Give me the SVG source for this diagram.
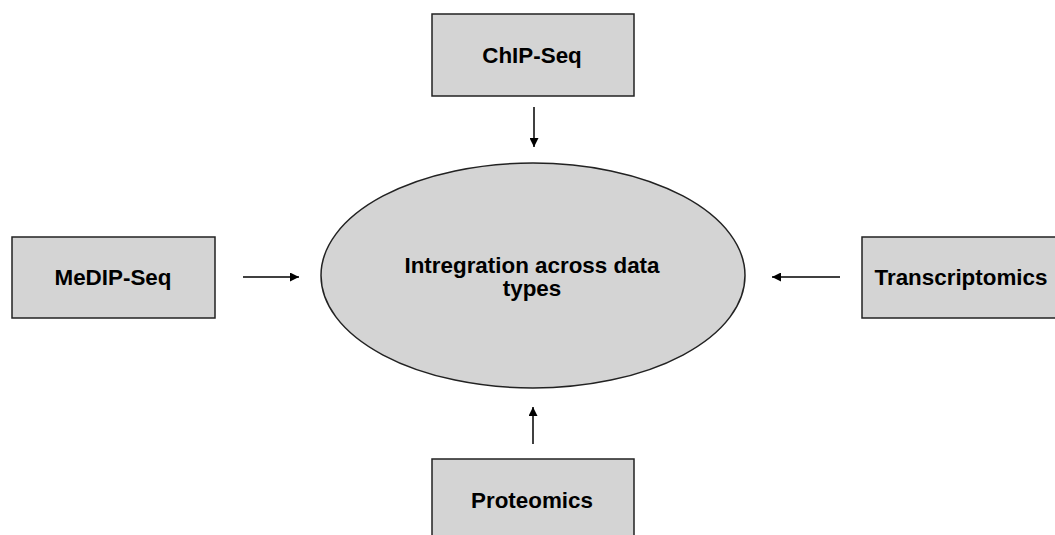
<svg xmlns="http://www.w3.org/2000/svg" width="1055" height="535" viewBox="0 0 1055 535">
<style>
.box{fill:#d4d4d4;stroke:#222;stroke-width:1.5}
.lbl{font-family:"Liberation Sans",Arial,sans-serif;font-weight:bold;font-size:22.4px;fill:#000;text-anchor:middle}
.conn{stroke:#000;stroke-width:1.5;fill:none;marker-end:url(#ah)}
</style>
<defs>
<marker id="ah" viewBox="0 0 10 10" refX="10" refY="5" markerWidth="9" markerHeight="9" markerUnits="userSpaceOnUse" orient="auto">
<path d="M0,0 L10,5 L0,10 z" fill="#000"/>
</marker>
</defs>
<rect width="1055" height="535" fill="#fff"/>
<g id="chipseq">
<rect class="box" x="432" y="14" width="202" height="82"/>
<text class="lbl" x="532" y="63">ChIP-Seq</text>
</g>
<g id="medipseq">
<rect class="box" x="12" y="237" width="203" height="81"/>
<text class="lbl" x="113" y="285">MeDIP-Seq</text>
</g>
<g id="transcriptomics">
<rect class="box" x="862" y="237" width="203" height="81"/>
<text class="lbl" x="961" y="285">Transcriptomics</text>
</g>
<g id="proteomics">
<rect class="box" x="432" y="459" width="202" height="90"/>
<text class="lbl" x="532" y="508">Proteomics</text>
</g>
<g id="integration">
<ellipse class="box" cx="533" cy="275.5" rx="212" ry="112.5"/>
<text class="lbl" x="532" y="273">Intregration across data</text>
<text class="lbl" x="532" y="296">types</text>
</g>
<g id="connectors">
<line class="conn" x1="534" y1="107" x2="534" y2="147"/>
<line class="conn" x1="243" y1="277" x2="299" y2="277"/>
<line class="conn" x1="840" y1="277" x2="772" y2="277"/>
<line class="conn" x1="533" y1="444" x2="533" y2="407"/>
</g>
</svg>
